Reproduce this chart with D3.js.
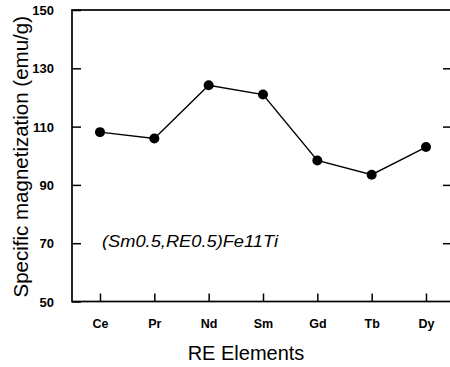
<!DOCTYPE html>
<html>
<head>
<meta charset="utf-8">
<script src="https://cdn.jsdelivr.net/npm/d3@7"></script>
<style>
  body { margin: 0; background: #fff; }
  text { font-family: "Liberation Sans", Arial, sans-serif; fill: #000; }
</style>
</head>
<body>
<svg id="chart"></svg>
<script>
// Data
const elements = ['Ce', 'Pr', 'Nd', 'Sm', 'Gd', 'Tb', 'Dy'];
const magnetization = [108.1, 105.9, 124.2, 121.0, 98.4, 93.5, 103.0];
const yTicks = [50, 70, 90, 110, 130, 150];

const width = 450;
const height = 367;
const margin = { top: 10, right: 1, bottom: 66, left: 72 };

const svg = d3.select('#chart')
  .attr('width', width)
  .attr('height', height);

// Scales
const x = d3.scalePoint()
  .domain(elements)
  .range([100, 426]);

const y = d3.scaleLinear()
  .domain([50, 150])
  .range([height - margin.bottom + 0.5, margin.top]);

// Frame
svg.append('rect')
  .attr('x', margin.left)
  .attr('y', margin.top)
  .attr('width', width - margin.right - margin.left + 4)
  .attr('height', y(50) - margin.top)
  .attr('fill', 'none')
  .attr('stroke', '#000')
  .attr('stroke-width', 1.7);

// Left axis, ticks pointing inward
const yAxis = svg.append('g')
  .attr('transform', `translate(${margin.left},0)`)
  .call(d3.axisLeft(y).tickValues(yTicks).tickSize(-9).tickPadding(18));
yAxis.select('.domain').remove();
yAxis.selectAll('line').attr('stroke-width', 1.5);
yAxis.selectAll('text')
  .style('font-size', '13px')
  .style('font-weight', 'bold')
  .attr('dy', '0.35em');

// Right side ticks (axis line sits just off the page)
const yRight = svg.append('g')
  .attr('transform', `translate(${width + 2},0)`)
  .call(d3.axisRight(y).tickValues(yTicks.slice(1, -1)).tickSize(-9).tickFormat(''));
yRight.select('.domain').remove();
yRight.selectAll('line').attr('stroke-width', 1.5);

// Bottom axis, ticks pointing up
const xAxis = svg.append('g')
  .attr('transform', `translate(0,${y(50)})`)
  .call(d3.axisBottom(x).tickSize(-8).tickPadding(18));
xAxis.select('.domain').remove();
xAxis.selectAll('line').attr('stroke-width', 1.5);
xAxis.selectAll('text')
  .style('font-size', '12.5px')
  .style('font-weight', 'bold');

// Line and markers
const line = d3.line()
  .x((d, i) => x(elements[i]))
  .y(d => y(d));

svg.append('path')
  .datum(magnetization)
  .attr('d', line)
  .attr('fill', 'none')
  .attr('stroke', '#000')
  .attr('stroke-width', 1.4);

svg.selectAll('.dot')
  .data(magnetization)
  .enter()
  .append('circle')
  .attr('class', 'dot')
  .attr('cx', (d, i) => x(elements[i]))
  .attr('cy', d => y(d))
  .attr('r', 5)
  .attr('fill', '#000');

// Annotation
svg.append('text')
  .attr('x', 102)
  .attr('y', 247)
  .attr('textLength', 176)
  .attr('lengthAdjust', 'spacingAndGlyphs')
  .style('font-size', '16px')
  .style('font-style', 'italic')
  .text('(Sm0.5,RE0.5)Fe11Ti');

// Axis titles
svg.append('text')
  .attr('x', 246)
  .attr('y', 360)
  .attr('text-anchor', 'middle')
  .style('font-size', '20px')
  .text('RE Elements');

svg.append('text')
  .attr('transform', `translate(28,${(margin.top + y(50)) / 2 + 1}) rotate(-90)`)
  .attr('text-anchor', 'middle')
  .style('font-size', '20.5px')
  .text('Specific magnetization (emu/g)');
</script>
</body>
</html>
